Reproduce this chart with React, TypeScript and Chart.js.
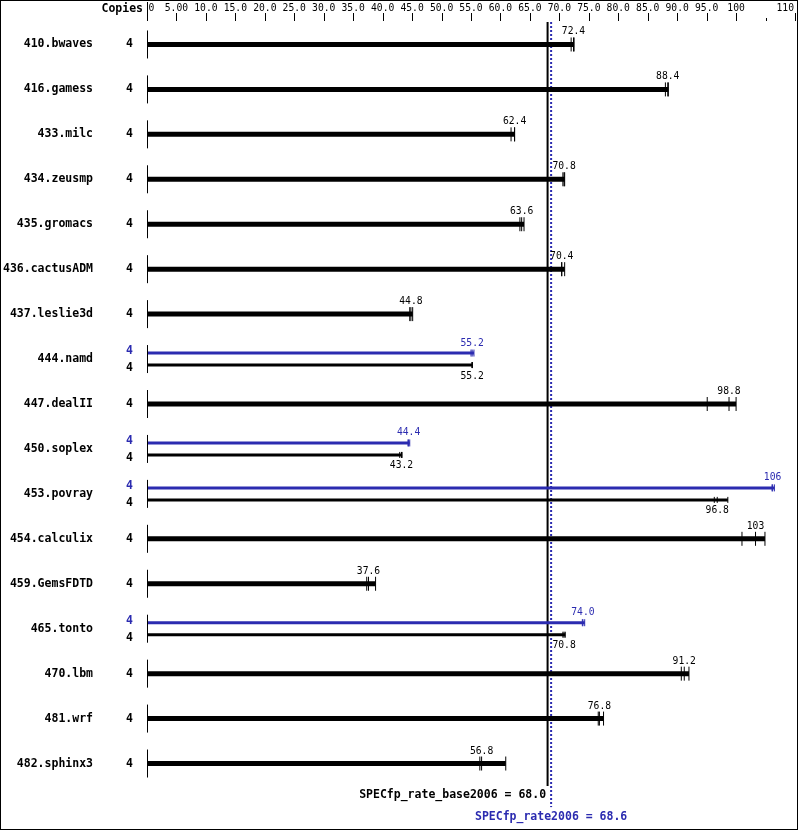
import React, { useEffect, useRef } from 'react';
import { Chart, registerables } from 'chart.js';

Chart.register(...registerables);

const benchmarks = [
  '410.bwaves', '416.gamess', '433.milc', '434.zeusmp', '435.gromacs', '436.cactusADM',
  '437.leslie3d', '444.namd', '447.dealII', '450.soplex', '453.povray', '454.calculix',
  '459.GemsFDTD', '465.tonto', '470.lbm', '481.wrf', '482.sphinx3',
];
const baseCopies = [4, 4, 4, 4, 4, 4, 4, 4, 4, 4, 4, 4, 4, 4, 4, 4, 4];
const peakCopies: (number | null)[] = [null, null, null, null, null, null, null, 4, null, 4, 4, null, null, 4, null, null, null];
// three runs per benchmark (min, median, max)
const baseRuns: number[][] = [
  [72.0, 72.4, 72.5],
  [88.0, 88.4, 88.5],
  [61.8, 62.4, 62.4],
  [70.6, 70.8, 70.9],
  [63.3, 63.6, 64.0],
  [70.4, 70.4, 70.9],
  [44.6, 44.8, 45.1],
  [55.2, 55.2, 55.2],
  [95.1, 98.8, 100.0],
  [42.9, 43.2, 43.3],
  [96.3, 96.8, 98.6],
  [101.0, 103.3, 104.9],
  [37.3, 37.6, 38.8],
  [70.6, 70.8, 71.0],
  [90.7, 91.2, 92.0],
  [76.6, 76.8, 77.5],
  [56.5, 56.8, 60.9],
];
const peakRuns: (number[] | null)[] = [
  null, null, null, null, null, null, null,
  [55.0, 55.2, 55.5],
  null,
  [44.3, 44.4, 44.6],
  [106.1, 106.2, 106.5],
  null, null,
  [73.9, 74.0, 74.3],
  null, null, null,
];
const axisTicks = [0, 5, 10, 15, 20, 25, 30, 35, 40, 45, 50, 55, 60, 65, 70, 75, 80, 85, 90, 95, 100, 110];
const minorTicks = [105];
const axisMin = 0;
const axisMax = 110;
const baseMean = 68.0;
const peakMean = 68.6;
const baseMeanLabel = 'SPECfp_rate_base2006';
const peakMeanLabel = 'SPECfp_rate2006';
const copiesHeader = 'Copies';

const BLUE = '#2b2bb0';
const BLACK = '#000000';
const MONO = '"DejaVu Sans Mono", "Liberation Mono", monospace';
const OFF = 0.1335;

const fmt = (v: number) => (v === 0 ? '0' : v.toPrecision(3));
const median = (r: number[]) => [...r].sort((a, b) => a - b)[1];

export default function App() {
  const ref = useRef<HTMLCanvasElement | null>(null);

  useEffect(() => {
    document.body.style.margin = '0';
    const canvas = ref.current;
    if (!canvas) return;

    const datasets: any[] = [];
    const bigTicks: { x: number; y: number }[] = [];
    const smallBaseTicks: { x: number; y: number }[] = [];
    const peakTicks: { x: number; y: number }[] = [];

    benchmarks.forEach((_, i) => {
      const b = baseRuns[i];
      const p = peakRuns[i];
      if (!p) {
        datasets.push({
          data: [{ x: 0, y: i }, { x: Math.max(...b), y: i }],
          showLine: true, borderColor: BLACK, borderWidth: 5, pointRadius: 0, borderCapStyle: 'butt',
        });
        b.forEach((v) => bigTicks.push({ x: v, y: i }));
      } else {
        datasets.push({
          data: [{ x: 0, y: i - OFF }, { x: Math.max(...p), y: i - OFF }],
          showLine: true, borderColor: BLUE, borderWidth: 3, pointRadius: 0, borderCapStyle: 'butt',
        });
        datasets.push({
          data: [{ x: 0, y: i + OFF }, { x: Math.max(...b), y: i + OFF }],
          showLine: true, borderColor: BLACK, borderWidth: 3, pointRadius: 0, borderCapStyle: 'butt',
        });
        p.forEach((v) => peakTicks.push({ x: v, y: i - OFF }));
        b.forEach((v) => smallBaseTicks.push({ x: v, y: i + OFF }));
      }
    });

    const tickDs = (data: any[], color: string, radius: number) => ({
      data, showLine: false, pointStyle: 'line', pointRotation: 90, pointRadius: radius,
      pointBorderWidth: 1, pointBorderColor: color, pointBackgroundColor: color,
    });
    datasets.push(tickDs(bigTicks, BLACK, 7));
    datasets.push(tickDs(smallBaseTicks, BLACK, 3));
    datasets.push(tickDs(peakTicks, BLUE, 3.5));

    const n = benchmarks.length;
    datasets.push({
      data: [{ x: baseMean, y: -0.5 }, { x: baseMean, y: n - 0.5 }],
      showLine: true, borderColor: BLACK, borderWidth: 2, pointRadius: 0, clip: false,
    });
    datasets.push({
      data: [{ x: peakMean, y: -0.5 }, { x: peakMean, y: n - 0.03 }],
      showLine: true, borderColor: BLUE, borderWidth: 2, borderDash: [2, 2], pointRadius: 0, clip: false,
    });

    const textPlugin = {
      id: 'specText',
      beforeDraw(chart: any) {
        const c = chart.ctx;
        c.save();
        c.fillStyle = '#ffffff';
        c.fillRect(0, 0, chart.width, chart.height);
        c.restore();
      },
      afterDraw(chart: any) {
        const c = chart.ctx as CanvasRenderingContext2D;
        const xs = chart.scales.x;
        const ys = chart.scales.y;
        const x0 = xs.getPixelForValue(axisMin);
        c.save();
        // top axis
        c.strokeStyle = BLACK;
        c.lineWidth = 1;
        c.fillStyle = BLACK;
        c.font = `bold 11.5px ${MONO}`;
        c.textAlign = 'right';
        c.textBaseline = 'middle';
        c.fillText(copiesHeader, 143, 9);
        c.font = `9.7px ${MONO}`;
        axisTicks.forEach((t) => {
          const px = xs.getPixelForValue(t);
          const sx = Math.round(px) + 0.5;
          if (t === axisMin) {
            c.textAlign = 'left';
            c.fillText(fmt(t), px + 1.5, 8);
            c.beginPath(); c.moveTo(sx, 2); c.lineTo(sx, 21); c.stroke();
          } else if (t === axisMax) {
            c.textAlign = 'right';
            c.fillText(fmt(t), px - 1, 8);
            c.beginPath(); c.moveTo(sx, 13); c.lineTo(sx, 21); c.stroke();
          } else {
            c.textAlign = 'center';
            c.fillText(fmt(t), px, 8);
            c.beginPath(); c.moveTo(sx, 13); c.lineTo(sx, 21); c.stroke();
          }
        });
        minorTicks.forEach((t) => {
          const sx = Math.round(xs.getPixelForValue(t)) + 0.5;
          c.beginPath(); c.moveTo(sx, 18); c.lineTo(sx, 21); c.stroke();
        });

        // rows
        const ax = Math.round(x0) + 0.5;
        benchmarks.forEach((name, i) => {
          const cy = ys.getPixelForValue(i);
          c.strokeStyle = BLACK;
          c.beginPath(); c.moveTo(ax, cy - 14); c.lineTo(ax, cy + 14); c.stroke();
          c.fillStyle = BLACK;
          c.font = `bold 11.5px ${MONO}`;
          c.textAlign = 'right';
          c.textBaseline = 'middle';
          c.fillText(name, 93, cy);
          const p = peakRuns[i];
          const b = baseRuns[i];
          if (!p) {
            c.fillText(String(baseCopies[i]), 133, cy);
            c.font = `9.7px ${MONO}`;
            c.textAlign = 'center';
            c.fillText(fmt(median(b)), xs.getPixelForValue(median(b)), cy - 12.5);
          } else {
            c.fillStyle = BLUE;
            c.fillText(String(peakCopies[i]), 133, cy - 8);
            c.fillStyle = BLACK;
            c.fillText(String(baseCopies[i]), 133, cy + 9);
            c.font = `9.7px ${MONO}`;
            c.textAlign = 'center';
            c.fillStyle = BLUE;
            c.fillText(fmt(median(p)), xs.getPixelForValue(median(p)), cy - 16);
            c.fillStyle = BLACK;
            c.fillText(fmt(median(b)), xs.getPixelForValue(median(b)), cy + 17);
          }
        });

        // summary
        c.font = `bold 11.5px ${MONO}`;
        c.textBaseline = 'middle';
        c.fillStyle = BLACK;
        c.textAlign = 'right';
        c.fillText(`${baseMeanLabel} = ${baseMean.toFixed(1)}`, xs.getPixelForValue(baseMean) - 1.5, 795);
        c.fillStyle = BLUE;
        c.textAlign = 'center';
        c.fillText(`${peakMeanLabel} = ${peakMean.toFixed(1)}`, xs.getPixelForValue(peakMean), 817);

        // frame
        c.strokeStyle = BLACK;
        c.lineWidth = 1;
        c.strokeRect(0.5, 0.5, 797, 829);
        c.restore();
      },
    };

    const chart = new Chart(canvas, {
      type: 'scatter',
      data: { datasets },
      options: {
        animation: false,
        responsive: false,
        maintainAspectRatio: false,
        events: [],
        layout: { autoPadding: false, padding: { left: 147, right: 4, top: 22, bottom: 45 } },
        plugins: { legend: { display: false }, tooltip: { enabled: false } },
        scales: {
          x: { type: 'linear', min: axisMin, max: axisMax, display: false },
          y: { type: 'linear', min: -0.5, max: n - 0.5, reverse: true, display: false },
        },
      },
      plugins: [textPlugin],
    } as any);
    return () => chart.destroy();
  }, []);

  return (
    <div style={{ width: 799, height: 831 }}>
      <canvas ref={ref} width={799} height={831} style={{ display: 'block' }} />
    </div>
  );
}
